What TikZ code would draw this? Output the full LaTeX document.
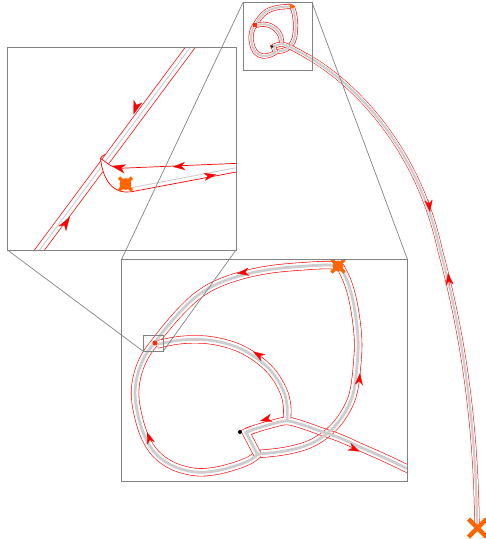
\documentclass[tikz,border=0pt]{standalone}
\usetikzlibrary{arrows.meta}
\definecolor{mkorange}{RGB}{255,102,0}
\definecolor{mkred}{RGB}{255,45,0}
\definecolor{roadgray}{RGB}{205,205,205}
\definecolor{boxgray}{RGB}{130,130,130}
\newcommand\RdR[1]{\draw[#1] plot[smooth,tension=0.6] coordinates {(258,454) (285,451) (310,444) (330,431) (344,414) (353,394) (357,366) (358,338) (354,306) (348,283) (340,266)};}
\newcommand\RdT[1]{\draw[#1] plot[smooth,tension=0.6] coordinates {(340,266) (327,265) (307,266) (273,269) (243,275) (217,284) (197,296) (180,312) (166,328) (155,342) (145,356) (138,373) (135,393) (138,415) (145,437) (156,454) (173,466) (195,472) (215,471) (235,466) (250,460) (258,454)};}
\newcommand\RdB[1]{\draw[#1] plot[smooth,tension=0.6] coordinates {(410,470) (385,458) (360,447) (340,438) (320,431) (303,425) (287,421) (272,424) (258,428) (246,432)};}
\newcommand\RdU[1]{\draw[#1] plot[smooth,tension=0.6] coordinates {(287,418) (287,405) (283,390) (272,372) (255,357) (234,346) (208,340) (181,340) (157,344.5)};}
\newcommand\RdUm[1]{\draw[#1] (287,421) -- plot[smooth,tension=0.6] coordinates {(287,418) (287,405) (283,390) (272,372) (255,357) (234,346) (208,340) (181,340) (157,344.5)};}
\newcommand\RdV[1]{\draw[#1] (253,429.5) -- (246,432.5) -- (258,455.5);}
\newcommand\NetRoads[1]{%
  \RdR{road=#1}
  \RdT{road=#1}
  \RdB{road=#1}
  \RdU{road=#1}
  \RdV{road=#1,line join=miter}
}
\newcommand\NetMids[1]{%
  \RdR{roadmid=#1}
  \RdT{roadmid=#1}
  \RdB{roadmid=#1}
  \RdUm{roadmid=#1}
  \RdV{roadmid=#1,line join=miter}
}
\begin{document}
\begin{tikzpicture}[x=1pt,y=-1pt,
  road/.style={draw=red,line width=0.6pt,double=white,double distance=#1},
  road/.default=7pt,
  roadmid/.style={draw=roadgray,line width=#1},
  roadmid/.default=2.8pt,
  lanearrow/.style={draw=red,fill=red,line width=0.3pt,-{Stealth[length=12pt,width=8pt,inset=3.5pt]}},
  bigarrow/.style={draw=red,fill=red,line width=0.3pt,-{Stealth[length=14pt,width=9pt,inset=4pt]}},
  boxframe/.style={draw=boxgray,line width=0.8pt},
  conn/.style={draw=boxgray,line width=0.7pt},
  redline/.style={draw=red,line width=0.7pt},
]
\useasboundingbox (0,0) rectangle (486,539);

% box corners
\coordinate (ovTL) at (243,2.5);
\coordinate (ovBR) at (312,70);
\coordinate (ovTR) at (312,2.5);
\coordinate (mdTL) at (121.5,259.5);
\coordinate (mdBR) at (407.5,481.5);
\coordinate (mdTR) at (407.5,259.5);
\coordinate (inTL) at (7.5,47.5);
\coordinate (inBR) at (236,250);
\coordinate (inBL) at (7.5,250);
\coordinate (lbTL) at (143.5,335.5);
\coordinate (lbBR) at (163,351.5);
\coordinate (lbBL) at (143.5,351.5);

% ===== overview =====
\begin{scope}[shift={(272,46.5)},xscale=0.2,yscale=0.24,shift={(-240,-432)}]
  \NetRoads{3.8pt}
  \NetMids{2pt}
  \node[fill=mkorange,inner sep=0,minimum size=3.5pt] (ovX) at (339,266) {};
  \node[fill=mkred,inner sep=0,minimum size=3.5pt] (ovLB) at (155,343) {};
  \node[fill=black,circle,inner sep=0,minimum size=2.8pt] (ovDot) at (240,432) {};
\end{scope}
% long road
\draw[road=4.2pt,line width=0.5pt] (306,55.6) .. controls (355,83) and (418,148) .. (440,250) .. controls (462,330) and (476,420) .. (477,527);
\draw[roadmid=2.2pt] (306,55.6) .. controls (355,83) and (418,148) .. (440,250) .. controls (462,330) and (476,420) .. (477,527);
\draw[lanearrow] (428.5,200) -- (430,212);
\draw[lanearrow] (449.5,285) -- (448,273);
\node (endX) at (477.5,528) {};
\draw[mkorange,line width=4.5pt] (468.5,519) -- (486.5,537) (486.5,519) -- (468.5,537);

% ===== medium view =====
\begin{scope}
  \clip (mdTL) rectangle (mdBR);
  \NetRoads{7pt}
  % restore the lines of the right road where the exit road passes over it
  \begin{scope}
    \clip (311.1,424.4) -- (321.1,427.9) -- (341.1,434.9) -- (338.9,441.1) -- (318.9,434.1) -- (308.9,430.6) -- cycle;
    \RdR{road=7pt}
  \end{scope}
  \NetMids{2.8pt}
  \draw[lanearrow] (240,273.05) -- (237,273.5);
  \draw[lanearrow] (255.6,353.1) -- (253,351.5);
  \draw[lanearrow] (359.7,376) -- (360,373);
  \draw[lanearrow] (148,434.8) -- (147,432);
  \draw[lanearrow] (262.9,420.2) -- (260,421);
  \draw[lanearrow] (357.3,450.3) -- (360,451.5);
  \node (mdX) at (338,266) {};
  \fill[mkorange] (338,266) circle (5.5);
  \draw[mkorange,line width=3.2pt] (331.5,259.5) -- (344.5,272.5) (344.5,259.5) -- (331.5,272.5);
  \node[fill=mkred,circle,inner sep=0,minimum size=5pt] (mdLB) at (155,343) {};
  \node[fill=black,circle,inner sep=0,minimum size=4pt] (mdDot) at (240,432) {};
\end{scope}

% ===== inset =====
\begin{scope}
  \clip (inTL) rectangle (inBR);
  \draw[road=7.3pt,line width=0.7pt] (23,272.2) -- (206,26.2);
  \draw[roadgray,line width=0.9pt] (23,272.2) -- (206,26.2);
  % connection area between the diagonal road and the side road
  \fill[white] (100.5,158.5) .. controls (104,160) and (108,165) .. (113,166.5) -- (125,168) -- (138,167.4) -- (138,191) -- (125,192) .. controls (112,191) and (104,180) .. (101.2,163) -- cycle;
  \draw[redline] (105.5,154.3) .. controls (102.5,155.8) and (100.5,157) .. (100.5,158.5) .. controls (104,160) and (108,165) .. (113,166.5);
  \draw[redline] (100.5,158.5) .. controls (100.6,160) and (100.9,161.5) .. (101.2,163) .. controls (104,180) and (112,191) .. (125,192) -- (132,191.8);
  \draw[redline] (122,168.2) -- (240,163.2);
  \draw[redline] (131.7,191.7) -- (240,171.3);
  \draw[roadgray,line width=0.9pt] (130,188) -- (240,167);
  \draw[bigarrow] (122,168.2) -- (111.5,166);
  \draw[bigarrow] (134.8,110.6) -- (133.5,114.5);
  \draw[bigarrow] (67.6,220.4) -- (69.8,217);
  \draw[lanearrow] (176,166.6) -- (173,166.8);
  \draw[lanearrow] (213,175.1) -- (216,174.5);
  \node (inX) at (125.5,184) {};
  \fill[mkorange] (125.5,184) circle (5.8);
  \draw[mkorange,line width=3.2pt] (119,177.5) -- (132,190.5) (132,177.5) -- (119,190.5);
\end{scope}

% ===== frames and connectors =====
\draw[boxframe] (ovTL) rectangle (ovBR);
\draw[boxframe] (mdTL) rectangle (mdBR);
\draw[boxframe] (inTL) rectangle (inBR);
\draw[boxframe] (lbTL) rectangle (lbBR);
\draw[conn] (ovTL) -- (mdTL);
\draw[conn] (ovTR) -- (mdTR);
\draw[conn] (inBL) -- (lbBL);
\draw[conn] (inBR) -- (lbBR);
\end{tikzpicture}
\end{document}
